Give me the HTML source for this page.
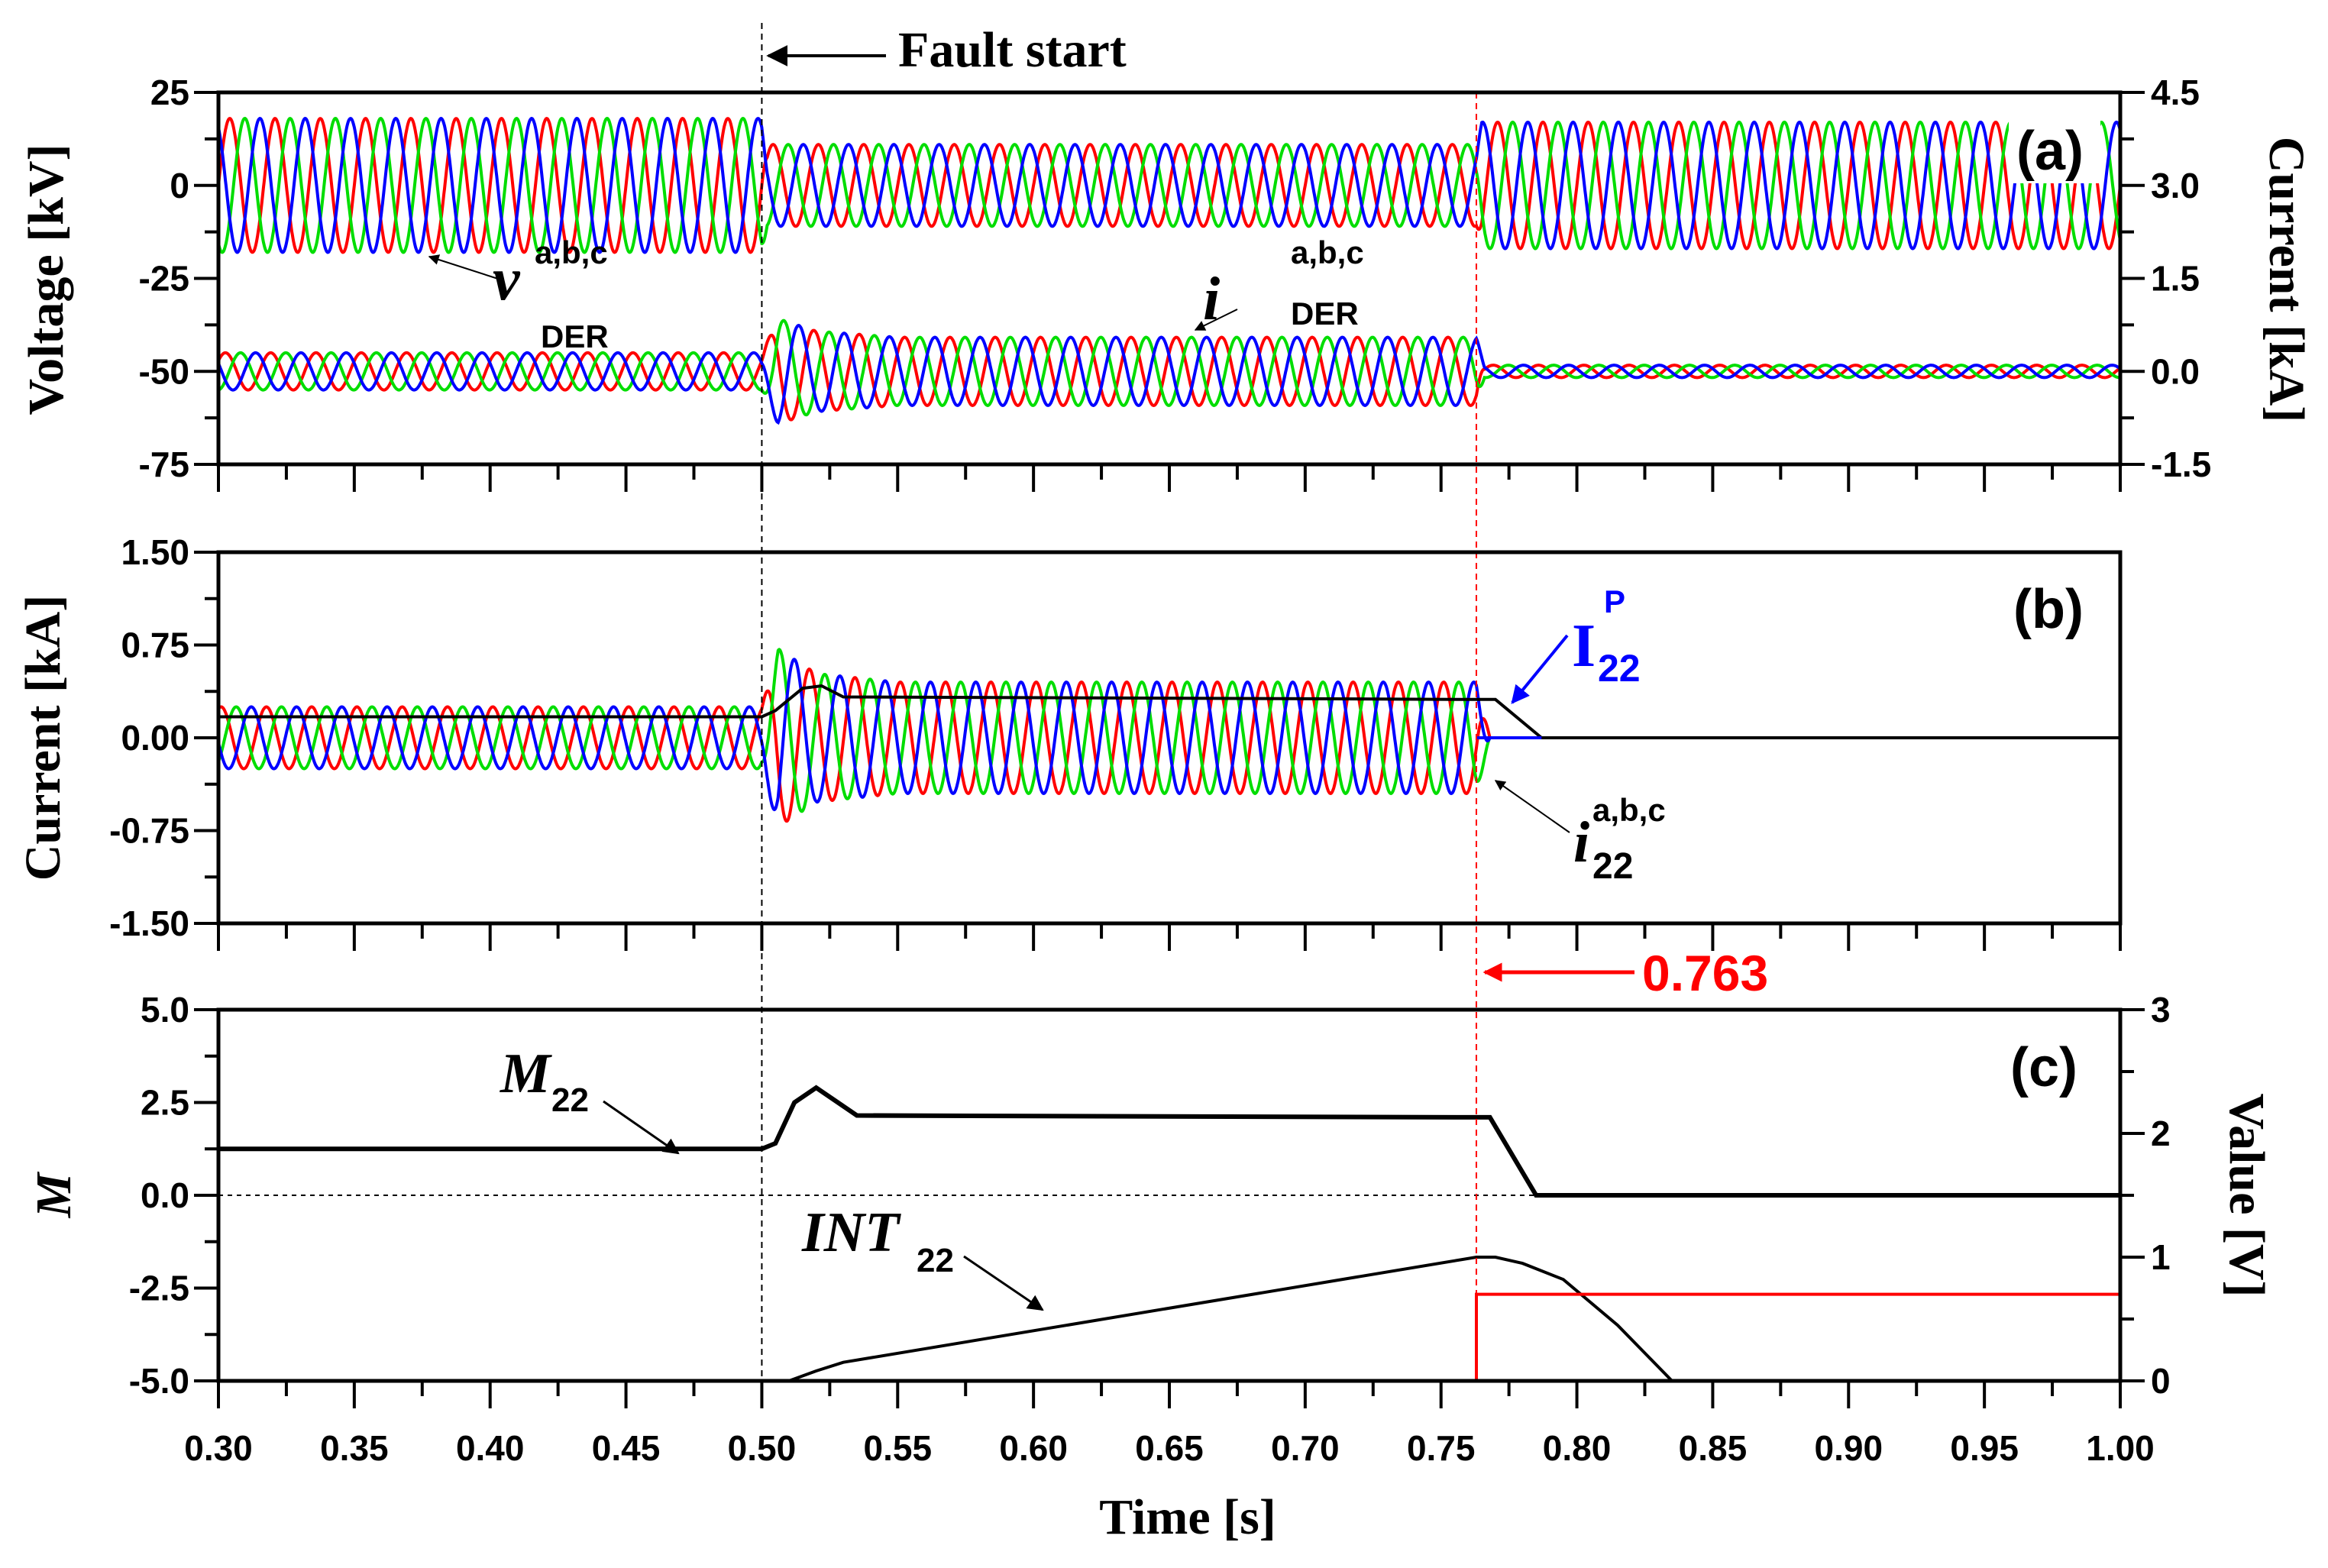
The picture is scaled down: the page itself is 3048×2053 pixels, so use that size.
<!DOCTYPE html>
<html><head><meta charset="utf-8"><style>
html,body{margin:0;padding:0;background:#fff;}
svg{display:block;}
.tk{font-family:"Liberation Sans",sans-serif;font-weight:bold;}
.ser{font-family:"Liberation Serif",serif;font-weight:bold;}
</style></head><body>
<svg id="chart" width="3048" height="2053" viewBox="0 0 3048 2053" xmlns="http://www.w3.org/2000/svg">
<defs>
<marker id="ah" viewBox="0 0 10 10" refX="9" refY="5" markerWidth="7" markerHeight="7" orient="auto-start-reverse"><path d="M0,0 L10,5 L0,10 z" fill="#000"/></marker>
<marker id="ahr" viewBox="0 0 10 10" refX="9" refY="5" markerWidth="5" markerHeight="5" orient="auto-start-reverse"><path d="M0,0 L10,5 L0,10 z" fill="#f00"/></marker>
<marker id="ahb" viewBox="0 0 10 10" refX="9" refY="5" markerWidth="6" markerHeight="6" orient="auto-start-reverse"><path d="M0,0 L10,5 L0,10 z" fill="#00f"/></marker>
</defs>
<g id="series"></g>
<g id="axes"></g>
<g id="annot">
<text class="ser" x="1176" y="87" font-size="66">Fault start</text>
<line x1="1160" y1="73" x2="1006" y2="73" stroke="#000" stroke-width="4" marker-end="url(#ah)"/>
<text class="tk" x="2150" y="1297" font-size="66" fill="#f00">0.763</text>
<line x1="2140" y1="1273" x2="1944" y2="1273" stroke="#f00" stroke-width="5" marker-end="url(#ahr)"/>
<rect x="2630" y="150" width="120" height="90" fill="#fff"/>
<text class="tk" x="2640" y="222" font-size="72">(a)</text>
<text class="tk" x="2636" y="822" font-size="72">(b)</text>
<text class="tk" x="2632" y="1422" font-size="72">(c)</text>
<g>
<text class="ser" x="645" y="392" font-size="80" font-style="italic" font-weight="normal">v</text>
<text class="tk" x="700" y="345" font-size="42">a,b,c</text>
<text class="tk" x="708" y="455" font-size="42">DER</text>
<line x1="652" y1="365" x2="562" y2="336" stroke="#000" stroke-width="2" marker-end="url(#ah)"/>
</g>
<g>
<text class="ser" x="1575" y="418" font-size="80" font-style="italic" font-weight="normal">i</text>
<text class="tk" x="1690" y="345" font-size="42">a,b,c</text>
<text class="tk" x="1690" y="425" font-size="42">DER</text>
<line x1="1620" y1="405" x2="1565" y2="432" stroke="#000" stroke-width="2" marker-end="url(#ah)"/>
</g>
<g fill="#00f">
<text class="ser" x="2058" y="872" font-size="80">I</text>
<text class="tk" x="2100" y="802" font-size="42" fill="#00f">P</text>
<text class="tk" x="2092" y="892" font-size="50" fill="#00f">22</text>
<line x1="2052" y1="832" x2="1980" y2="920" stroke="#00f" stroke-width="4" marker-end="url(#ahb)"/>
</g>
<g>
<text class="ser" x="2060" y="1128" font-size="76" font-style="italic" font-weight="normal">i</text>
<text class="tk" x="2085" y="1075" font-size="42">a,b,c</text>
<text class="tk" x="2085" y="1150" font-size="48">22</text>
<line x1="2055" y1="1090" x2="1958" y2="1022" stroke="#000" stroke-width="2" marker-end="url(#ah)"/>
</g>
<g>
<text class="ser" x="655" y="1430" font-size="74" font-style="italic">M</text>
<text class="tk" x="722" y="1455" font-size="44">22</text>
<line x1="790" y1="1442" x2="888" y2="1510" stroke="#000" stroke-width="3" marker-end="url(#ah)"/>
</g>
<g>
<text class="ser" x="1050" y="1638" font-size="74" font-style="italic">INT</text>
<text class="tk" x="1200" y="1665" font-size="44">22</text>
<line x1="1262" y1="1645" x2="1365" y2="1715" stroke="#000" stroke-width="3" marker-end="url(#ah)"/>
</g>
<text class="ser" x="1555" y="2008" font-size="66" text-anchor="middle">Time [s]</text>
<text class="ser" font-size="66" text-anchor="middle" transform="translate(82,366) rotate(-90)">Voltage [kV]</text>
<text class="ser" font-size="66" text-anchor="middle" transform="translate(2972,366) rotate(90)">Current [kA]</text>
<text class="ser" font-size="66" text-anchor="middle" transform="translate(78,966) rotate(-90)">Current [kA]</text>
<text class="ser" font-size="66" font-style="italic" text-anchor="middle" transform="translate(92,1565) rotate(-90)">M</text>
<text class="ser" font-size="66" text-anchor="middle" transform="translate(2920,1565) rotate(90)">Value [V]</text>
</g>
</svg>
<script>
// ---- data ----
const xTicks = [0.30,0.35,0.40,0.45,0.50,0.55,0.60,0.65,0.70,0.75,0.80,0.85,0.90,0.95,1.00];
const aLeftTicks = [25,0,-25,-50,-75];
const aRightTicks = [4.5,3.0,1.5,0.0,-1.5];
const bTicks = [1.5,0.75,0,-0.75,-1.5];
const cLeftTicks = [5,2.5,0,-2.5,-5];
const cRightTicks = [3,2,1,0];
const vTimes = [0.30,0.500,0.502,0.763,0.765,1.00];
const vAmp = [18,18,11,11,17,17];
const iDerTimes = [0.30,0.500,0.506,0.520,0.550,0.763,0.766,1.00];
const iDerAmp = [0.30,0.30,0.85,0.65,0.55,0.55,0.10,0.10];
const i22Times = [0.30,0.500,0.506,0.520,0.550,0.763,0.768,1.00];
const i22Amp = [0.25,0.25,0.72,0.52,0.45,0.45,0.0,0.0];
const rmsTimes = [0.30,0.500,0.505,0.515,0.522,0.530,0.763,0.770,0.787,1.00];
const rmsVals = [0.17,0.17,0.22,0.40,0.42,0.33,0.31,0.31,0.0,0.0];
const i22pTimes = [0.763,0.787];
const i22pVals = [0,0];
const mTimes = [0.30,0.500,0.505,0.512,0.520,0.528,0.535,0.763,0.768,0.785,1.00];
const mVals = [1.25,1.25,1.4,2.5,2.9,2.5,2.15,2.1,2.1,0,0];
const intTimes = [0.30,0.510,0.520,0.530,0.763,0.770,0.780,0.795,0.815,0.835];
const intVals = [0,0,0.08,0.15,1.0,1.0,0.95,0.82,0.45,0];
const redTimes = [0.30,0.763,0.763,1.00];
const redVals = [0,0,0.7,0.7];

// ---- axes ----
const L=286,R=2776;
const X=t=>L+(t-0.3)/0.7*(R-L);
const PA={t:121,b:608},PB={t:723,b:1209},PC={t:1322,b:1808};
const YaL=v=>PA.t+(25-v)/100*(PA.b-PA.t);
const YaR=i=>PA.t+(4.5-i)/6*(PA.b-PA.t);
const Yb=i=>PB.t+(1.5-i)/3*(PB.b-PB.t);
const YcL=m=>PC.t+(5-m)/10*(PC.b-PC.t);
const YcR=v=>PC.t+(3-v)/3*(PC.b-PC.t);
const NS='http://www.w3.org/2000/svg';
const series=document.getElementById('series'), axes=document.getElementById('axes');
function mk(tag,attrs,parent){const e=document.createElementNS(NS,tag);for(const k in attrs)e.setAttribute(k,attrs[k]);parent.appendChild(e);return e;}
function interp(ts,vs,t){if(t<=ts[0])return vs[0];for(let i=1;i<ts.length;i++){if(t<=ts[i]){const d=ts[i]-ts[i-1];return d<=0?vs[i]:vs[i-1]+(vs[i]-vs[i-1])*(t-ts[i-1])/d;}}return vs[vs.length-1];}
function poly(ts,vs,yf,color,w,dash){let d='';for(let i=0;i<ts.length;i++)d+=(i?'L':'M')+X(ts[i]).toFixed(1)+','+yf(vs[i]).toFixed(1);const p=mk('path',{d:d,fill:'none',stroke:color,'stroke-width':w},series);if(dash)p.setAttribute('stroke-dasharray',dash);return p;}
function wave(ts,amps,yf,off,ph,color,t0,t1){let d='';let first=true;for(let t=t0;t<=t1+1e-9;t+=0.0002){const v=off+interp(ts,amps,t)*Math.sin(2*Math.PI*60*t+ph);d+=(first?'M':'L')+X(t).toFixed(1)+','+yf(v).toFixed(1);first=false;}return mk('path',{d:d,fill:'none',stroke:color,'stroke-width':4},series);}
const cols=['#f00','#0d0','#00f'],phs=[0,-2*Math.PI/3,2*Math.PI/3];
for(let k=0;k<3;k++){const p=wave(vTimes,vAmp,YaL,0,phs[k],cols[k],0.3,1.0);

}
for(let k=0;k<3;k++){const p=wave(iDerTimes,iDerAmp,YaR,0,phs[k]+0.6,cols[k],0.3,1.0);

}
for(let k=0;k<3;k++){const p=wave(i22Times,i22Amp,Yb,0,phs[k]+1.2,cols[k],0.3,0.770);

}
let p;
p=poly(rmsTimes,rmsVals,Yb,'#000',4);


p=poly(i22pTimes,i22pVals,Yb,'#00f',4);


p=poly([0.3,1.0],[0,0],YcL,'#000',2,'6,6');


p=poly(mTimes,mVals,YcL,'#000',6);


p=poly(intTimes,intVals,YcR,'#000',4);


p=poly(redTimes,redVals,YcR,'#f00',4);



let vl=mk('line',{x1:X(0.5),x2:X(0.5),y1:30,y2:PC.b,stroke:'#000','stroke-width':2,'stroke-dasharray':'8,6'},axes);


vl=mk('line',{x1:X(0.763),x2:X(0.763),y1:PA.t,y2:PC.b,stroke:'#f00','stroke-width':2,'stroke-dasharray':'8,6'},axes);



function panel(P,name,leftTicks,yl,leftFmt,rightTicks,yr,rightFmt,showX){
  const r=mk('rect',{x:L,y:P.t,width:R-L,height:P.b-P.t,fill:'none',stroke:'#000','stroke-width':5},axes);
  
  
  for(let i=0;i<xTicks.length;i++){const x=X(xTicks[i]);mk('line',{x1:x,x2:x,y1:P.b,y2:P.b+36,stroke:'#000','stroke-width':4},axes);
    if(i<xTicks.length-1){const xm=X((xTicks[i]+xTicks[i+1])/2);mk('line',{x1:xm,x2:xm,y1:P.b,y2:P.b+20,stroke:'#000','stroke-width':4},axes);}
    if(showX){const t=mk('text',{x:x,y:1912,'text-anchor':'middle',class:'tk','font-size':46},axes);t.textContent=xTicks[i].toFixed(2);
      
      }}
  for(let i=0;i<leftTicks.length;i++){const y=yl(leftTicks[i]);mk('line',{x1:L-32,x2:L,y1:y,y2:y,stroke:'#000','stroke-width':4},axes);
    if(i<leftTicks.length-1){const ym=(y+yl(leftTicks[i+1]))/2;mk('line',{x1:L-18,x2:L,y1:ym,y2:ym,stroke:'#000','stroke-width':4},axes);}
    const t=mk('text',{x:L-38,y:y+16,'text-anchor':'end',class:'tk','font-size':46},axes);t.textContent=leftFmt(leftTicks[i]);
    
    }
  if(rightTicks){for(let i=0;i<rightTicks.length;i++){const y=yr(rightTicks[i]);mk('line',{x1:R,x2:R+32,y1:y,y2:y,stroke:'#000','stroke-width':4},axes);
    if(i<rightTicks.length-1){const ym=(y+yr(rightTicks[i+1]))/2;mk('line',{x1:R,x2:R+18,y1:ym,y2:ym,stroke:'#000','stroke-width':4},axes);}
    const t=mk('text',{x:R+40,y:y+16,'text-anchor':'start',class:'tk','font-size':46},axes);t.textContent=rightFmt(rightTicks[i]);
    
    }}
}
panel(PA,'panel-a',aLeftTicks,YaL,v=>String(v),aRightTicks,YaR,v=>v.toFixed(1),false);
panel(PB,'panel-b',bTicks,Yb,v=>v.toFixed(2),null,null,null,false);
panel(PC,'panel-c',cLeftTicks,YcL,v=>v.toFixed(1),cRightTicks,YcR,v=>String(v),true);
</script>
</body></html>
